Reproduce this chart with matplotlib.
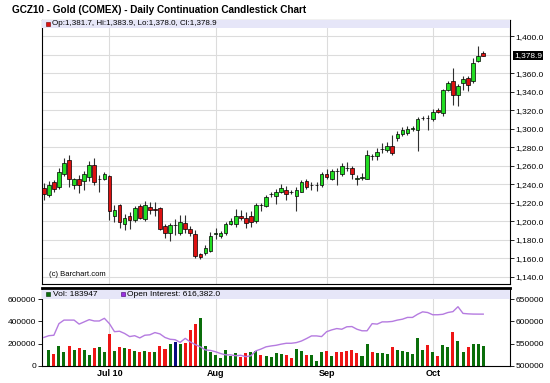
import numpy as np
import matplotlib
matplotlib.use('Agg')
import matplotlib.pyplot as plt
from matplotlib.patches import Rectangle

plt.rcParams['font.family'] = ['Liberation Sans', 'DejaVu Sans']

#Daily OHLC, GCZ10, Jun 14 - Oct 15 2010 (one value per trading day)
opens = [1236, 1228, 1242, 1237, 1251, 1266, 1239, 1246, 1243, 1248, 1261, 1245, 1246, 1249,
	1205, 1217, 1197, 1206, 1201, 1216, 1202, 1215, 1213, 1214, 1195, 1187, 1195.5, 1187, 1198, 1192,
	1186, 1164, 1166, 1168, 1186, 1184, 1187, 1197, 1197, 1206, 1203, 1206, 1200, 1217, 1216, 1229,
	1227, 1232, 1234, 1231.5, 1227, 1232, 1243, 1239, 1239, 1239, 1251, 1246, 1254, 1251, 1257, 1257,
	1246, 1247, 1246, 1270, 1270, 1278, 1277, 1281, 1290, 1294, 1295, 1300, 1298, 1311, 1311, 1310,
	1320.5, 1317, 1342, 1351, 1336, 1349, 1355, 1351, 1373, 1381.7]
highs = [1241, 1243, 1244, 1257, 1268, 1272, 1247, 1250, 1254, 1265, 1268, 1250, 1253, 1250,
	1217, 1219, 1208, 1210, 1216, 1219, 1222, 1221, 1221, 1215, 1197, 1198, 1202, 1207, 1207, 1195,
	1190, 1166, 1174, 1188, 1193, 1189, 1199, 1203, 1213, 1212, 1210, 1211, 1220, 1220, 1228, 1231,
	1235, 1240, 1238, 1234, 1237, 1244, 1246, 1242, 1242, 1253, 1256, 1256, 1257, 1263, 1264, 1260,
	1250, 1252, 1277, 1273, 1279, 1284, 1286, 1293, 1297, 1302, 1303, 1303, 1313, 1314, 1315, 1321,
	1322, 1343, 1351, 1366, 1348, 1357, 1357, 1376, 1389, 1383.9]
lows = [1223, 1226, 1232, 1235, 1249, 1237, 1235, 1230, 1234, 1243, 1239, 1232, 1244, 1201,
	1199, 1193, 1190, 1192, 1199, 1202, 1200, 1208, 1205, 1190, 1182, 1179, 1185, 1185, 1187, 1184,
	1160, 1159, 1163, 1167, 1181, 1182, 1185, 1196, 1194, 1201, 1193, 1194, 1198, 1211, 1215, 1226,
	1219, 1230, 1223, 1229, 1211, 1231, 1235, 1234, 1233, 1237, 1245, 1244, 1239, 1249, 1254, 1245,
	1239, 1244, 1245, 1266, 1266, 1274, 1275, 1272, 1287, 1292, 1293, 1297, 1276, 1309, 1298, 1308,
	1317, 1314, 1341, 1326, 1325, 1342, 1341, 1349, 1372, 1378.0]
closes = [1229, 1239, 1235, 1253, 1263, 1245, 1245, 1239, 1251, 1261, 1242, 1246, 1251, 1211,
	1212, 1199, 1203, 1201, 1214, 1203, 1217, 1212, 1212.5, 1192, 1187, 1196, 1196, 1199, 1191, 1187,
	1162, 1161, 1171, 1184, 1187, 1187, 1197, 1200, 1205, 1203, 1198, 1199, 1217, 1217.5, 1226, 1229.5,
	1232, 1235.5, 1229, 1232, 1234, 1242, 1237, 1239.5, 1239.5, 1251, 1248, 1254, 1254.5, 1260, 1257.5, 1251,
	1246.5, 1247.5, 1272, 1270.5, 1275, 1278.5, 1281, 1274, 1294, 1299, 1300, 1300.5, 1310, 1311.5, 1311.5, 1318,
	1318, 1342, 1349, 1336, 1346, 1354, 1347, 1371, 1378, 1378.9]

volume = [np.nan, 143000, 104000, 179000, 122000, 179000, 143000, 158000, 143000, 98000, 158000, 173000, 122000, 290000,
	134000, 173000, 158000, 152000, 137000, 128000, 131000, 128000, 128000, 179000, 152000, 194000, 212000, 194000, 203000, 322000,
	373000, 427000, 182000, 128000, 98000, 75000, 140000, 90000, 119000, 84000, 113000, 128000, 137000, 95000, 90000, 83000,
	114000, 108000, 98000, 71000, 154000, 132000, 102000, 102000, 46000, 123000, 132000, 92000, 123000, 123000, 138000, 148000,
	117000, 92000, 200000, 123000, 117000, 117000, 108000, 169000, 145000, 138000, 129000, 108000, 252000, 148000, 185000, 129000,
	92000, 185000, 169000, 308000, 225000, 123000, 169000, 200000, 200000, 183947]
#1 = up day, -1 = down day, 0 = unchanged
vol_dir = [1, 1, -1, 1, 1, -1, 1, -1, 1, 1, -1, 1, 1, -1,
	1, -1, 1, -1, 1, -1, 1, -1, 1, -1, -1, 1, 0, 1, -1, -1,
	-1, 1, 1, 1, 1, 1, 1, 1, 1, -1, -1, 1, 1, -1, 1, 1,
	1, 1, -1, -1, 1, 1, -1, 1, 1, 1, -1, 1, -1, -1, -1, -1,
	-1, 1, 1, -1, 1, 1, 1, -1, 1, 1, 1, 1, 1, 1, -1, 1,
	-1, 1, 1, -1, 1, 1, -1, 1, 1, 1]
open_int = [564000, 568000, 569000, 595000, 603000, 603000, 603000, 594000, 599000, 604000, 601000, 601000, 607000, 595000,
	577000, 578000, 573000, 566000, 568000, 563000, 569000, 570000, 575000, 572000, 564000, 560000, 559000, 553000, 562000, 554000,
	548000, 543000, 536000, 535000, 532000, 528000, 525000, 525000, 523000, 524000, 521000, 523000, 534000, 538000, 543000, 545000,
	546500, 549000, 551000, 551000, 552500, 556000, 561500, 567500, 567500, 566000, 577000, 581000, 584000, 582500, 588000, 588500,
	582500, 579000, 579000, 595000, 594000, 599000, 599000, 600000, 603000, 605000, 609000, 609000, 616000, 621500, 620000, 615000,
	615000, 616000, 620000, 622000, 633000, 618000, 617000, 616500, 616400, 616382]

month_pos = [13, 34, 56, 77]
month_labels = ['Jul 10', 'Aug', 'Sep', 'Oct']
price_ticks = [1140, 1160, 1180, 1200, 1220, 1240, 1260, 1280, 1300, 1320, 1340, 1360, 1400]
vol_ticks = [0, 200000, 400000, 600000]
oi_ticks = [500000, 550000, 600000, 650000]

W, H = 550.0, 383.0
x = np.arange(len(closes))
o = np.array(opens); c = np.array(closes)

fig = plt.figure(figsize=(5.5, 3.83), dpi=100)
ax1 = fig.add_axes([42/W, 1-284/H, 468/W, 264.5/H])
ax2 = fig.add_axes([42/W, 1-366/H, 468/W, 78/H], sharex=ax1)

##########################################################################################
#Price panel

for p in price_ticks + [1380]:
	ax1.axhline(p, color='#dcdcdc', lw=0.8, zorder=0)
for m in month_pos:
	ax1.axvline(m, color='#dcdcdc', lw=0.8, zorder=0)

ax1.vlines(x, lows, highs, color='#303030', lw=0.8, zorder=2)
body_col = np.where(c > o, '#22dd22', '#dd1111')
body_h = np.maximum(np.abs(c - o), 0.4)
ax1.bar(x, body_h, bottom=np.minimum(o, c), width=0.72, color=body_col,
	edgecolor='black', linewidth=0.5, zorder=3)

ax1.set_xlim(-0.35, 92.3)
ax1.set_ylim(1132, 1418)
ax1.yaxis.tick_right()
ax1.set_yticks(price_ticks)
ax1.set_yticklabels(['{:,.1f}'.format(p) for p in price_ticks])
ax1.tick_params(axis='y', direction='out', length=3, pad=1, labelsize=6, width=0.6)
ax1.tick_params(axis='x', bottom=False, labelbottom=False)
for s in ax1.spines.values():
	s.set_linewidth(0.8)

#header band
band = 8.5/264.5
ax1.add_patch(Rectangle((0, 1-band), 1, band, transform=ax1.transAxes,
	facecolor='#e6e6f8', edgecolor='none', zorder=4))
ax1.plot([0.012], [1-band/2], 's', ms=3.5, color='#dd1111', mec='#700000', mew=0.4,
	transform=ax1.transAxes, zorder=5)
ax1.text(0.022, 1-band/2, 'Op:1,381.7, Hi:1,383.9, Lo:1,378.0, Cl:1,378.9',
	transform=ax1.transAxes, fontsize=5.8, va='center', zorder=5)

ax1.text(0.016, 0.022, '(c) Barchart.com', transform=ax1.transAxes, fontsize=5.5, va='bottom')

#last price marker
ax1.text(1.0 + 4/468, closes[-1], '{:,.1f}'.format(closes[-1]), transform=ax1.get_yaxis_transform(),
	fontsize=6, color='white', va='center', ha='left', clip_on=False,
	bbox=dict(facecolor='black', edgecolor='none', pad=0.6))

##########################################################################################
#Volume / open interest panel

for m in month_pos:
	ax2.axvline(m, color='#dcdcdc', lw=0.8, zorder=0)

vol_col = ['#0a6e0a' if d > 0 else ('#ee1515' if d < 0 else '#0a0a80') for d in vol_dir]
ax2.bar(x, volume, width=0.6, color=vol_col, zorder=2)
ax2.set_ylim(0, 700000)
ax2.set_yticks(vol_ticks)
ax2.set_yticklabels([str(v) for v in vol_ticks])
ax2.tick_params(axis='y', direction='out', length=3, pad=1, labelsize=6, width=0.6)
ax2.set_xticks(month_pos)
ax2.set_xticklabels(month_labels, fontweight='bold')
ax2.tick_params(axis='x', length=0, pad=2.5, labelsize=6.5)
for s in ax2.spines.values():
	s.set_linewidth(0.8)
ax2.spines['top'].set_linewidth(2)

ax3 = ax2.twinx()
ax3.plot(x, open_int, color='#b57be0', lw=1, zorder=3)
ax3.set_ylim(500000, 675000)
ax3.set_yticks(oi_ticks)
ax3.set_yticklabels([str(v) for v in oi_ticks])
ax3.tick_params(axis='y', direction='out', length=3, pad=1, labelsize=6, width=0.6)
for s in ax3.spines.values():
	s.set_visible(False)

band2 = 9/78.0
ax3.add_patch(Rectangle((0, 1-band2-0.02), 1, band2, transform=ax3.transAxes,
	facecolor='#e6e6f8', edgecolor='none', zorder=4))
yb = 1-band2/2-0.02
ax3.plot([0.0135], [yb], 's', ms=3.5, color='#0a6e0a', mec='#003000', mew=0.4,
	transform=ax3.transAxes, zorder=5, clip_on=False)
ax3.text(0.023, yb, 'Vol: 183947', transform=ax3.transAxes, fontsize=6, va='center', zorder=5)
ax3.plot([0.174], [yb], 's', ms=3.5, color='#9a30e0', mec='#400070', mew=0.4,
	transform=ax3.transAxes, zorder=5, clip_on=False)
ax3.text(0.182, yb, 'Open Interest: 616,382.0', transform=ax3.transAxes, fontsize=6, va='center', zorder=5)

fig.text(12/W, 1-10/H, 'GCZ10 - Gold (COMEX) - Daily Continuation Candlestick Chart',
	fontsize=7.2, fontweight='bold', va='center', ha='left')

plt.savefig('out.png', dpi=100)
plt.close()
